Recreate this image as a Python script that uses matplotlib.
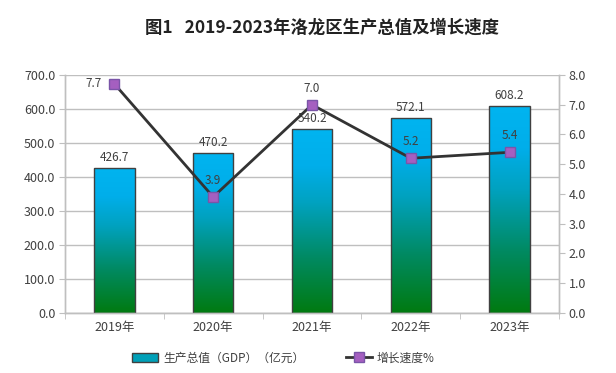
import matplotlib
matplotlib.use("Agg")
import matplotlib.pyplot as plt
import numpy as np
from matplotlib.colors import LinearSegmentedColormap
from matplotlib.patches import Rectangle
from matplotlib.lines import Line2D

plt.rcParams['font.family'] = ['Noto Sans CJK SC', 'DejaVu Sans']

years = ["2019年", "2020年", "2021年", "2022年", "2023年"]
gdp = [426.7, 470.2, 540.2, 572.1, 608.2]
growth = [7.7, 3.9, 7.0, 5.2, 5.4]
left_ticks = [0, 100, 200, 300, 400, 500, 600, 700]
right_ticks = [0, 1, 2, 3, 4, 5, 6, 7, 8]

TEXT = "#404040"
GRID = "#bfbfbf"
BAR_W = 0.41

grad = LinearSegmentedColormap.from_list(
    "gdp", [(0.0, "#007a10"), (0.3, "#008a62"), (0.6, "#00a2c0"),
            (0.8, "#00aeea"), (1.0, "#00b4f0")])

fig = plt.figure(figsize=(6.16, 3.73), dpi=100)
ax = fig.add_axes([0.1055, 0.161, 0.802, 0.638])
ax2 = ax.twinx()

x = np.arange(len(years))

# gradient bars, one gradient per bar
g = np.linspace(0, 1, 256).reshape(-1, 1)
for xi, v in zip(x, gdp):
    rect = Rectangle((xi - BAR_W / 2, 0), BAR_W, v, facecolor="none",
                     edgecolor="#404040", linewidth=1.0, zorder=3)
    ax.add_patch(rect)
    im = ax.imshow(g, cmap=grad, origin="lower", aspect="auto",
                   extent=[xi - BAR_W / 2, xi + BAR_W / 2, 0, v], zorder=2)
    im.set_clip_path(rect)
    ax.text(xi, v + 12, f"{v:.1f}", ha="center", va="bottom",
            fontsize=8.5, color=TEXT, zorder=5)
ax.set_xlim(-0.5, len(years) - 0.5)
ax.set_ylim(0, 700)
ax2.set_ylim(0, 8)

ax.set_yticks(left_ticks)
ax.set_yticklabels([f"{t:.1f}" for t in left_ticks])
ax.yaxis.grid(True, color=GRID, linewidth=1.0, zorder=0)
ax.set_axisbelow(True)
ax.set_xticks(x)
ax.set_xticklabels(years)
ax.set_xticks(np.arange(-0.5, len(years), 1.0), minor=True)
ax.tick_params(axis="x", which="major", length=0, pad=6, labelsize=9, colors=TEXT)
ax.tick_params(axis="x", which="minor", length=4, color=GRID, direction="out")
ax.tick_params(axis="y", length=4, color=GRID, labelsize=9, labelcolor=TEXT, pad=3)

ax2.plot(x, growth, color="#333333", linewidth=2, marker="s", markersize=7.5,
         markerfacecolor="#a55fc0", markeredgecolor="#7a55a8",
         markeredgewidth=1, zorder=6)
for i, (xi, v) in enumerate(zip(x, growth)):
    if i == 0:
        ax2.text(xi - 0.13, v, f"{v:.1f}", ha="right", va="center",
                 fontsize=8.5, color=TEXT, zorder=7)
    else:
        ax2.text(xi, v + 0.33, f"{v:.1f}", ha="center", va="bottom",
                 fontsize=8.5, color=TEXT, zorder=7)
ax2.set_yticks(right_ticks)
ax2.set_yticklabels([f"{t:.1f}" for t in right_ticks])
ax2.tick_params(axis="y", length=4, color=GRID, labelsize=9, labelcolor=TEXT, pad=3)

for a in (ax, ax2):
    a.spines["top"].set_visible(False)
    for s in ("left", "right", "bottom"):
        a.spines[s].set_color(GRID)
        a.spines[s].set_linewidth(1.0)

fig.text(0.522, 0.925, "图1   2019-2023年洛龙区生产总值及增长速度",
         ha="center", va="center", fontsize=12.5, fontweight="bold", color="#222222")

handles = [
    Rectangle((0, 0), 1, 1, facecolor="#00a0b8", edgecolor="#404040", linewidth=1),
    Line2D([0], [0], color="#333333", linewidth=2, marker="s", markersize=7,
           markerfacecolor="#a55fc0", markeredgecolor="#7a55a8"),
]
fig.legend(handles, ["生产总值（GDP）（亿元）", "增长速度%"], loc="center",
           bbox_to_anchor=(0.46, 0.04), ncol=2, frameon=False, fontsize=8.5,
           handlelength=2.2, handleheight=0.8, columnspacing=3.5, handletextpad=0.4,
           labelcolor=TEXT)

fig.savefig("out.png", dpi=100)
